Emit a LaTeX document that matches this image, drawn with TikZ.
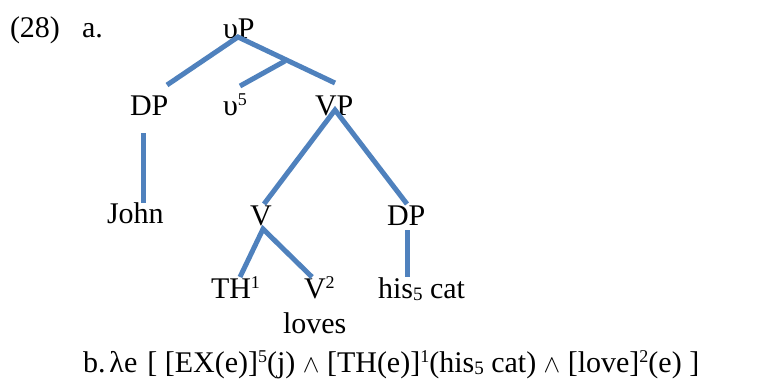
\documentclass[tikz,border=0pt]{standalone}
\usepackage{fontspec}
\setmainfont{Liberation Serif}
\newcommand{\mysup}[1]{\raisebox{10pt}{\fontsize{18}{18}\selectfont #1}}
\newcommand{\mysub}[1]{\raisebox{-2pt}{\fontsize{19}{19}\selectfont #1}}
\begin{document}
\begin{tikzpicture}[x=1pt,y=-1pt,
  lbl/.style={anchor=base west,inner sep=0pt,outer sep=0pt,font=\fontsize{30}{36}\selectfont},
  branch/.style={draw=blue4f,line width=5pt}]
\definecolor{blue4f}{HTML}{4F81BD}
\useasboundingbox (0,0) rectangle (759,381);
% labels
\node[lbl] (num) at (10,37) {(28)};
\node[lbl] (a) at (82,37) {a.};
\node[lbl] (vP) at (223,38) {υP};
\node[lbl] (DP1) at (130,115) {DP};
\node[lbl] (v5) at (223,115) {υ\mysup{5}};
\node[lbl] (VP) at (315,115) {VP};
\node[lbl] (John) at (107,223) {John};
\node[lbl] (V) at (250,225) {V};
\node[lbl] (DP2) at (387,225) {DP};
\node[lbl] (TH) at (211,298) {TH\mysup{1}};
\node[lbl] (V2) at (304,298) {V\mysup{2}};
\node[lbl] (his) at (378,298) {his\mysub{5} cat};
\node[lbl] (loves) at (283,333) {loves};
\node[lbl] (b) at (83,372) {b.\hspace{4pt}λe\hspace{10pt}[ [EX(e)]\mysup{5}(j) $\wedge$ [TH(e)]\mysup{1}(his\mysub{5} cat) $\wedge$ [love]\mysup{2}(e) ]};
% connector end points
\coordinate (vPb) at (238,37);
\coordinate (DP1t) at (167,85);
\coordinate (VPt) at (335,83);
\coordinate (mid) at (285,61);
\coordinate (v5t) at (240,86);
\coordinate (DP1b) at (143,133);
\coordinate (Johnt) at (143,203);
\coordinate (VPb) at (335,110);
\coordinate (Vt) at (264,204);
\coordinate (DP2t) at (407,204);
\coordinate (DP2b) at (407,230);
\coordinate (hist) at (407,277);
\coordinate (Vb) at (263,229);
\coordinate (THt) at (240,277);
\coordinate (V2t) at (312,277);
% connectors
\draw[branch] (DP1t) -- (vPb) -- (VPt);
\draw[branch] (mid) -- (v5t);
\draw[branch] (DP1b) -- (Johnt);
\draw[branch] (Vt) -- (VPb) -- (DP2t);
\draw[branch] (DP2b) -- (hist);
\draw[branch] (THt) -- (Vb) -- (V2t);
\end{tikzpicture}
\end{document}
